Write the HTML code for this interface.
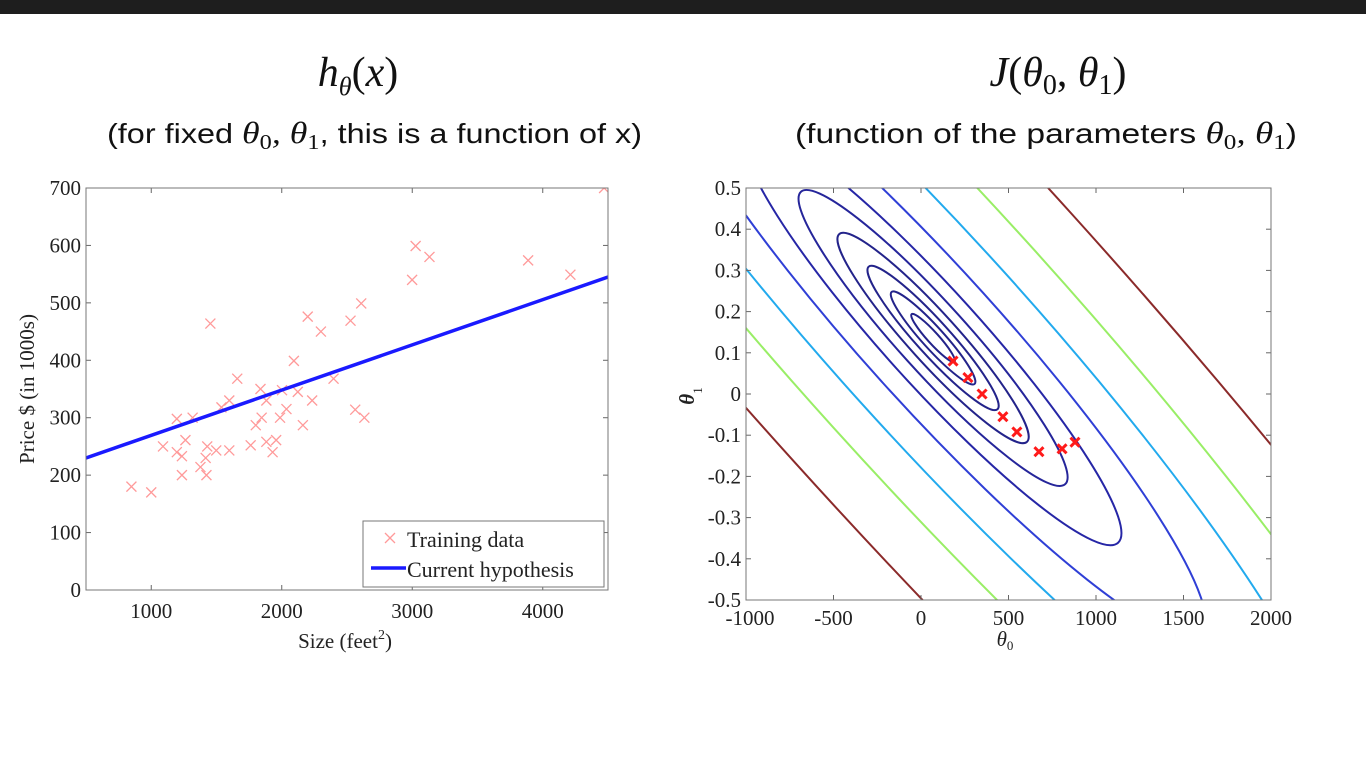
<!DOCTYPE html>
<html><head><meta charset="utf-8"><style>
html,body{margin:0;padding:0;background:#fff;overflow:hidden;width:1366px;height:768px;}
svg{display:block;overflow:hidden;}
.tick{font-family:"Liberation Serif",serif;font-size:21px;fill:#222;}
.ttl{font-family:"Liberation Serif",serif;font-style:italic;font-size:42px;fill:#111;}
.sub{font-family:"Liberation Sans",sans-serif;font-size:28px;fill:#111;}
.subm{font-family:"Liberation Serif",serif;font-style:italic;font-size:31px;fill:#111;}
</style></head><body>
<svg id="root" width="1366" height="768" viewBox="0 0 1366 768" xmlns="http://www.w3.org/2000/svg">
<rect x="0" y="0" width="1366" height="14" fill="#1e1e1e"/>
<text x="358" y="86" text-anchor="middle" class="ttl">h<tspan font-size="26" dy="9">θ</tspan><tspan font-style="normal" dy="-9">(</tspan>x<tspan font-style="normal">)</tspan></text>
<text x="107" y="143" class="sub" textLength="535" lengthAdjust="spacingAndGlyphs">(for fixed <tspan class="subm">θ</tspan><tspan font-family="Liberation Serif" font-size="21" dy="6">0</tspan><tspan class="subm" font-style="normal" dy="-6">, </tspan><tspan class="subm">θ</tspan><tspan font-family="Liberation Serif" font-size="21" dy="6">1</tspan><tspan dy="-6">, this is a function of x)</tspan></text>
<text x="1058" y="86" text-anchor="middle" class="ttl">J<tspan font-style="normal">(</tspan>θ<tspan font-style="normal" font-size="28" dy="8">0</tspan><tspan font-style="normal" dy="-8">, </tspan>θ<tspan font-style="normal" font-size="28" dy="8">1</tspan><tspan font-style="normal" dy="-8">)</tspan></text>
<text x="795" y="143" class="sub" textLength="502" lengthAdjust="spacingAndGlyphs">(function of the parameters <tspan class="subm">θ</tspan><tspan font-family="Liberation Serif" font-size="21" dy="6">0</tspan><tspan class="subm" font-style="normal" dy="-6">, </tspan><tspan class="subm">θ</tspan><tspan font-family="Liberation Serif" font-size="21" dy="6">1</tspan><tspan dy="-6">)</tspan></text>
<g id="left"></g>
<g id="right"></g>
</svg>
<script>
// ---- Left chart data ----
const sizes = [848,1000,1090,1196,1196,1235,1235,1262,1317,1377,1417,1423,1429,1453,1498,1538,1598,1598,1659,1762,1801,1837,1846,1882,1882,1930,1957,1987,2002,2036,2093,2123,2162,2199,2233,2300,2397,2527,2563,2609,2633,2999,3026,3132,3888,4212,4470];
const prices = [180,170,250,298,240,233,200,261,300,214,230,200,250,464,243,318,243,330,368,252,287,350,300,330,258,240,261,300,348,315,399,345,287,476,330,450,368,469,314,499,300,540,599,580,574,549,700];
const hypTheta0 = [190.6];
const hypTheta1 = [0.07875];
const xTicksL = [1000,2000,3000,4000];
const yTicksL = [0,100,200,300,400,500,600,700];
// ---- Right chart data ----
const contourCenter0 = [69];
const contourCenter1 = [0.136];
const contourMajor = [183,354,549,800,1126,1577,2286,3343,4640,6457];
const contourMinor = [32,62,96,140,196,272,385,554,766,1063];
const contourColors = ["#23238a","#23238a","#23238a","#23238a","#25259a","#2626a6","#2f3fd6","#22aaee","#99ee66","#8b2a2a"];
const gdTheta0 = [183,268,349,468,548,674,806,880];
const gdTheta1 = [0.08,0.04,0.0,-0.055,-0.092,-0.14,-0.133,-0.117];
const xTicksR = [-1000,-500,0,500,1000,1500,2000];
const yTicksR = [-0.5,-0.4,-0.3,-0.2,-0.1,0,0.1,0.2,0.3,0.4,0.5];

const NS="http://www.w3.org/2000/svg";
function mk(tag,attrs,parent){const e=document.createElementNS(NS,tag);for(const k in attrs)e.setAttribute(k,attrs[k]);parent.appendChild(e);return e;}

// Left axes
const L={x0:86,x1:608,y0:590,y1:188,xmin:500,xmax:4500,ymin:0,ymax:700};
const lx=v=>L.x0+(v-L.xmin)/(L.xmax-L.xmin)*(L.x1-L.x0);
const ly=v=>L.y0-(v-L.ymin)/(L.ymax-L.ymin)*(L.y0-L.y1);
const gl=document.getElementById('left');
mk('defs',{},gl).innerHTML='<clipPath id="clipL"><rect x="86" y="188" width="522" height="402"/></clipPath><clipPath id="clipR"><rect x="746" y="188" width="525" height="412"/></clipPath>';
xTicksL.forEach(v=>{
  const t=mk('line',{x1:lx(v),x2:lx(v),y1:L.y0,y2:L.y0-5,stroke:'#666'},gl);
  
  const t2=mk('line',{x1:lx(v),x2:lx(v),y1:L.y1,y2:L.y1+5,stroke:'#666'},gl);
  
  const s=mk('text',{x:lx(v),y:618,'text-anchor':'middle',class:'tick'},gl);s.textContent=v;
  
});
yTicksL.forEach(v=>{
  const t=mk('line',{x1:L.x0,x2:L.x0+5,y1:ly(v),y2:ly(v),stroke:'#666'},gl);
  
  const t2=mk('line',{x1:L.x1,x2:L.x1-5,y1:ly(v),y2:ly(v),stroke:'#666'},gl);
  
  const s=mk('text',{x:81,y:ly(v)+7,'text-anchor':'end',class:'tick'},gl);s.textContent=v;
  
});
const pts=mk('g',{'clip-path':'url(#clipL)'},gl);

sizes.forEach((s,i)=>{
  const x=lx(s),y=ly(prices[i]),d=5;
  const p=mk('path',{d:`M${x-d},${y-d}L${x+d},${y+d}M${x-d},${y+d}L${x+d},${y-d}`,stroke:'#ff9a9a','stroke-width':1.3,fill:'none'},pts);
  
});
const hl=mk('line',{x1:lx(L.xmin),y1:ly(hypTheta0[0]+hypTheta1[0]*L.xmin),x2:lx(L.xmax),y2:ly(hypTheta0[0]+hypTheta1[0]*L.xmax),stroke:'#1a1aff','stroke-width':3.5,'clip-path':'url(#clipL)'},gl);

const fr=mk('rect',{x:86,y:188,width:522,height:402,fill:'none',stroke:'#777','stroke-width':1},gl);

const leg=mk('g',{},gl);
mk('rect',{x:363,y:521,width:241,height:66,fill:'#fff',stroke:'#777'},leg);
mk('path',{d:'M385,533L395,543M385,543L395,533',stroke:'#ff9a9a','stroke-width':1.3},leg);
let lt=mk('text',{x:407,y:547,class:'tick',style:'font-size:22px'},leg);lt.textContent='Training data';

mk('line',{x1:371,x2:406,y1:568,y2:568,stroke:'#1a1aff','stroke-width':3.5},leg);
lt=mk('text',{x:407,y:577,class:'tick',style:'font-size:22px'},leg);lt.textContent='Current hypothesis';

let at=mk('text',{x:345,y:648,'text-anchor':'middle',class:'tick'},gl);at.innerHTML='Size (feet<tspan font-size="14" dy="-9">2</tspan><tspan dy="9">)</tspan>';

at=mk('text',{x:0,y:0,'text-anchor':'middle',class:'tick',transform:'translate(34,389) rotate(-90)'},gl);at.textContent='Price $ (in 1000s)';


// Right axes
const R={x0:746,x1:1271,y0:600,y1:188,xmin:-1000,xmax:2000,ymin:-0.5,ymax:0.5};
const rx=v=>R.x0+(v-R.xmin)/(R.xmax-R.xmin)*(R.x1-R.x0);
const ry=v=>R.y0-(v-R.ymin)/(R.ymax-R.ymin)*(R.y0-R.y1);
const pxPerUnit=(R.x1-R.x0)/(R.xmax-R.xmin);
const gr=document.getElementById('right');
const cg=mk('g',{'clip-path':'url(#clipR)'},gr);

contourMajor.forEach((a,i)=>{
  const cx=rx(contourCenter0[0]),cy=ry(contourCenter1[0]);
  const e=mk('ellipse',{cx:cx,cy:cy,rx:a*pxPerUnit,ry:contourMinor[i]*pxPerUnit,transform:`rotate(47.9 ${cx} ${cy})`,fill:'none',stroke:contourColors[i],'stroke-width':2},cg);
  
});
gdTheta0.forEach((t,i)=>{
  const x=rx(t),y=ry(gdTheta1[i]),d=4.5;
  const p=mk('path',{d:`M${x-d},${y-d}L${x+d},${y+d}M${x-d},${y+d}L${x+d},${y-d}`,stroke:'#ff1a1a','stroke-width':3,fill:'none'},gr);
  
});
xTicksR.forEach(v=>{
  const t=mk('line',{x1:rx(v),x2:rx(v),y1:R.y0,y2:R.y0-5,stroke:'#666'},gr);
  
  const t2=mk('line',{x1:rx(v),x2:rx(v),y1:R.y1,y2:R.y1+5,stroke:'#666'},gr);
  
  const s=mk('text',{x:rx(v)+(v===-1000?4:0),y:625,'text-anchor':'middle',class:'tick'},gr);s.textContent=v;
  
});
yTicksR.forEach(v=>{
  const t=mk('line',{x1:R.x0,x2:R.x0+5,y1:ry(v),y2:ry(v),stroke:'#666'},gr);
  
  const t2=mk('line',{x1:R.x1,x2:R.x1-5,y1:ry(v),y2:ry(v),stroke:'#666'},gr);
  
  const s=mk('text',{x:741,y:ry(v)+7,'text-anchor':'end',class:'tick'},gr);s.textContent=(v===0?'0':String(v));
  
});
const fr2=mk('rect',{x:746,y:188,width:525,height:412,fill:'none',stroke:'#777','stroke-width':1},gr);

at=mk('text',{x:1005,y:646,'text-anchor':'middle',class:'tick',style:'font-style:italic'},gr);at.innerHTML='θ<tspan font-size="13" font-style="normal" dy="4">0</tspan>';

at=mk('text',{x:0,y:0,'text-anchor':'middle',class:'tick',style:'font-style:italic;font-weight:bold',transform:'translate(694,396) rotate(-90)'},gr);at.innerHTML='θ<tspan font-size="13" font-style="normal" font-weight="normal" dy="8">1</tspan>';

</script>
</body></html>
